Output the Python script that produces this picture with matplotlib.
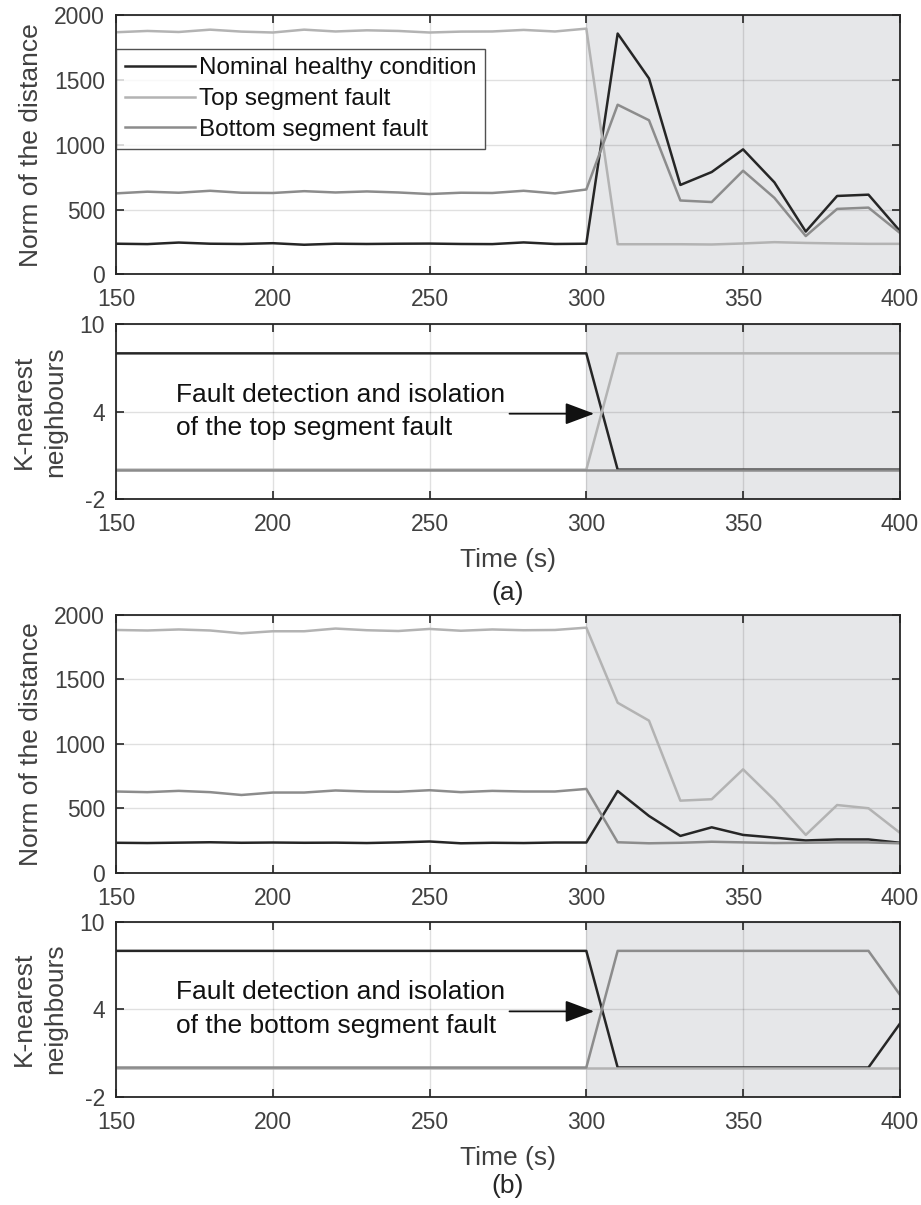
import numpy as np
import matplotlib
matplotlib.use('Agg')
import matplotlib.pyplot as plt

plt.rcParams['font.family'] = ['Liberation Sans', 'DejaVu Sans']
plt.rcParams['axes.unicode_minus'] = False

# Time axis (s)
time = list(range(150, 401, 10))

# (a) norm of the distance
nominal_a = [236, 233, 245, 236, 234, 240, 228, 236, 234, 236, 237, 234, 233, 246, 234, 236,
             1860, 1513, 690, 790, 965, 710, 330, 605, 615, 335]
top_a = [1870, 1880, 1872, 1890, 1875, 1868, 1890, 1876, 1885, 1880, 1868, 1875, 1876, 1888, 1876, 1898,
         232, 232, 232, 230, 238, 248, 242, 238, 235, 235]
bottom_a = [625, 638, 630, 645, 630, 628, 642, 632, 640, 632, 620, 630, 628, 645, 625, 655,
            1310, 1190, 570, 558, 800, 590, 295, 505, 515, 320]

# (a) k-nearest neighbours
knn_nominal_a = [8] * 16 + [0] * 10
knn_top_a = [0] * 16 + [8] * 10
knn_bottom_a = [0] * 26

# (b) norm of the distance
nominal_b = [232, 230, 233, 236, 232, 234, 232, 233, 230, 235, 242, 228, 232, 230, 234, 234,
             634, 440, 285, 352, 293, 272, 250, 258, 258, 232]
top_b = [1884, 1880, 1888, 1880, 1858, 1874, 1874, 1895, 1882, 1876, 1892, 1878, 1888, 1882, 1884, 1902,
         1319, 1180, 559, 570, 802, 564, 293, 525, 500, 310]
bottom_b = [630, 625, 635, 625, 603, 622, 622, 638, 630, 628, 640, 625, 635, 630, 630, 650,
            236, 228, 232, 240, 235, 230, 232, 235, 235, 228]

# (b) k-nearest neighbours
knn_nominal_b = [8] * 16 + [0] * 9 + [3]
knn_top_b = [0] * 26
knn_bottom_b = [0] * 16 + [8] * 9 + [5]

labels = ['Nominal healthy condition', 'Top segment fault', 'Bottom segment fault']
colors = ['#262626', '#b3b3b3', '#8c8c8c']
fault_start = 300

fig = plt.figure(figsize=(9.21, 12.05), dpi=100)
L, W = 0.126, 0.851
ax1 = fig.add_axes([L, 0.7724, W, 0.2148])
ax2 = fig.add_axes([L, 0.5861, W, 0.1448])
ax3 = fig.add_axes([L, 0.2758, W, 0.2138])
ax4 = fig.add_axes([L, 0.0899, W, 0.1452])


def style(ax):
    ax.set_xlim(150, 400)
    ax.set_xticks([150, 200, 250, 300, 350, 400])
    ax.axvspan(fault_start, 400, color='#e6e7e9', lw=0, zorder=0.2)
    ax.set_axisbelow(True)
    ax.grid(True, color='black', alpha=0.12, lw=1)
    ax.tick_params(direction='in', top=True, right=True, length=6, width=1.2,
                   labelsize=16.5, colors='#262626')
    ax.tick_params(axis='x', pad=10, labelcolor='#404040')
    ax.tick_params(axis='y', pad=8, labelcolor='#404040')
    for s in ax.spines.values():
        s.set_color('#262626')
        s.set_linewidth(1.3)


for ax, series in [(ax1, [nominal_a, top_a, bottom_a]), (ax3, [nominal_b, top_b, bottom_b])]:
    style(ax)
    for y, c, lab in zip(series, colors, labels):
        ax.plot(time, y, color=c, lw=1.8, label=lab)
    ax.set_ylim(0, 2000)
    ax.set_yticks([0, 500, 1000, 1500, 2000])
    ax.set_ylabel('Norm of the distance', fontsize=19, color='#404040', va='center')
    ax.yaxis.set_label_coords(-0.108, 0.5)

for ax, series, txt in [(ax2, [knn_nominal_a, knn_top_a, knn_bottom_a],
                         'Fault detection and isolation\nof the top segment fault'),
                        (ax4, [knn_nominal_b, knn_top_b, knn_bottom_b],
                         'Fault detection and isolation\nof the bottom segment fault')]:
    style(ax)
    for y, c in zip(series, colors):
        ax.plot(time, y, color=c, lw=1.8)
    ax.set_ylim(-2, 10)
    ax.set_yticks([-2, 4, 10])
    ax.set_ylabel('K-nearest\nneighbours', fontsize=19, color='#404040', va='center',
                  linespacing=1.4)
    ax.yaxis.set_label_coords(-0.0976, 0.5)
    ax.set_xlabel('Time (s)', fontsize=19, color='#404040', labelpad=9)
    ax.text(169, 4, txt, fontsize=19, va='center', ha='left', color='#111111', linespacing=1.5)
    ax.annotate('', xy=(302.5, 3.85), xytext=(275.5, 3.85),
                arrowprops=dict(arrowstyle='-|>,head_length=1.2,head_width=0.45',
                                color='#111111', lw=1.3, mutation_scale=15,
                                shrinkA=0, shrinkB=0))

leg = ax1.legend(loc='upper left', bbox_to_anchor=(0, 0.8706), borderaxespad=0,
                 fontsize=17.5, frameon=True, fancybox=False, handlelength=2.9,
                 handletextpad=0.15, labelspacing=0.36, borderpad=0.35)
leg.get_frame().set_edgecolor('#262626')
leg.get_frame().set_linewidth(1.0)
for t in leg.get_texts():
    t.set_color('#111111')

fig.text(0.5516, 1 - 593 / 1205, '(a)', fontsize=19, ha='center', va='center', color='#262626')
fig.text(0.5516, 1 - 1186 / 1205, '(b)', fontsize=19, ha='center', va='center', color='#262626')

plt.savefig('out.png', dpi=100)
plt.close()
